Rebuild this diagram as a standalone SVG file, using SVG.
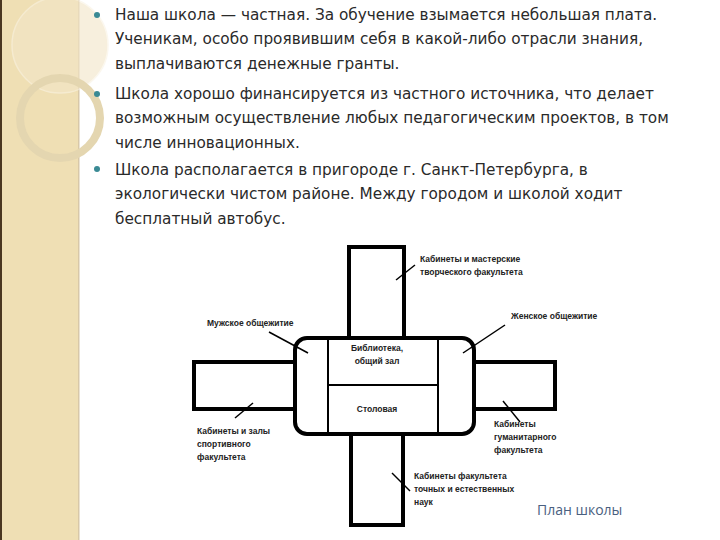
<svg xmlns="http://www.w3.org/2000/svg" width="720" height="540" viewBox="0 0 720 540">
<style>
.b{font-family:"DejaVu Sans","Open Sans",sans-serif;font-size:15.3px;fill:#2a2a2a}
.l{font-family:"Liberation Sans",Arial,sans-serif;font-size:8.5px;font-weight:bold;fill:#222}
.w{fill:#fff;stroke:#000;stroke-width:4}
.ln{stroke:#000;stroke-width:1.5}
</style>
<rect width="720" height="540" fill="#fff"/>
<g id="band">
<rect x="0" y="0" width="79" height="540" fill="#efdfb4"/>
<rect x="0" y="0" width="2" height="540" fill="#4a3620"/>
<rect x="78" y="0" width="1.5" height="540" fill="#d8c8a8"/>
<circle cx="60" cy="45" r="48" fill="#f3e6c8" opacity="0.6" stroke="#faf3e3" stroke-width="1.5"/>
<circle cx="60" cy="118" r="40" fill="none" stroke="#e4d6b0" stroke-width="8"/>
</g>
<g id="bullets">
<circle cx="97" cy="15" r="3" fill="#3a8a94"/>
<circle cx="97" cy="94" r="3" fill="#3a8a94"/>
<circle cx="97" cy="169" r="3" fill="#3a8a94"/>
<text class="b" x="115" y="20">Наша школа — частная. За обучение взымается небольшая плата.</text>
<text class="b" x="115" y="44">Ученикам, особо проявившим себя в какой-либо отрасли знания,</text>
<text class="b" x="115" y="69">выплачиваются денежные гранты.</text>
<text class="b" x="115" y="99">Школа хорошо финансируется из частного источника, что делает</text>
<text class="b" x="115" y="123">возможным осуществление любых педагогическим проектов, в том</text>
<text class="b" x="115" y="148">числе инновационных.</text>
<text class="b" x="115" y="175">Школа располагается в пригороде г. Санкт-Петербурга, в</text>
<text class="b" x="115" y="199">экологически чистом районе. Между городом и школой ходит</text>
<text class="b" x="115" y="224">бесплатный автобус.</text>
</g>
<g id="wings">
<rect class="w" x="349" y="247" width="55" height="100"/>
<rect class="w" x="351" y="425" width="52" height="100"/>
<rect class="w" x="194" y="362" width="110" height="47"/>
<rect class="w" x="465" y="362" width="90" height="47"/>
</g>
<g id="center">
<rect class="w" x="295" y="338" width="179" height="96" rx="12"/>
<line x1="328" y1="340" x2="328" y2="432" stroke="#000" stroke-width="2"/>
<line x1="438" y1="340" x2="438" y2="432" stroke="#000" stroke-width="2"/>
<line x1="328" y1="385" x2="438" y2="385" stroke="#000" stroke-width="2"/>
<text class="l" x="377" y="351" text-anchor="middle">Библиотека,</text>
<text class="l" x="377" y="364" text-anchor="middle">общий зал</text>
<text class="l" x="377" y="412" text-anchor="middle" font-weight="normal">Столовая</text>
</g>
<g id="connectors">
<line class="ln" x1="396" y1="280" x2="415" y2="265"/>
<line class="ln" x1="269" y1="332" x2="308" y2="353"/>
<line class="ln" x1="505" y1="325" x2="463" y2="353"/>
<line class="ln" x1="253" y1="403" x2="235" y2="418"/>
<line class="ln" x1="503" y1="401" x2="520" y2="422"/>
<line class="ln" x1="392" y1="473" x2="410" y2="491"/>
</g>
<g id="labels">
<text class="l" x="420" y="262">Кабинеты и мастерские</text>
<text class="l" x="420" y="275">творческого факультета</text>
<text class="l" x="207" y="326">Мужское общежитие</text>
<text class="l" x="511" y="319">Женское общежитие</text>
<text class="l" x="197" y="434">Кабинеты и залы</text>
<text class="l" x="197" y="447">спортивного</text>
<text class="l" x="197" y="460">факультета</text>
<text class="l" x="494" y="427">Кабинеты</text>
<text class="l" x="494" y="440">гуманитарного</text>
<text class="l" x="494" y="453">факультета</text>
<text class="l" x="414" y="479">Кабинеты факультета</text>
<text class="l" x="414" y="492">точных и естественных</text>
<text class="l" x="414" y="505">наук</text>
<text x="537" y="515" font-family="'Open Sans','DejaVu Sans',sans-serif" font-size="14" fill="#4a6080">План школы</text>
</g>
</svg>
